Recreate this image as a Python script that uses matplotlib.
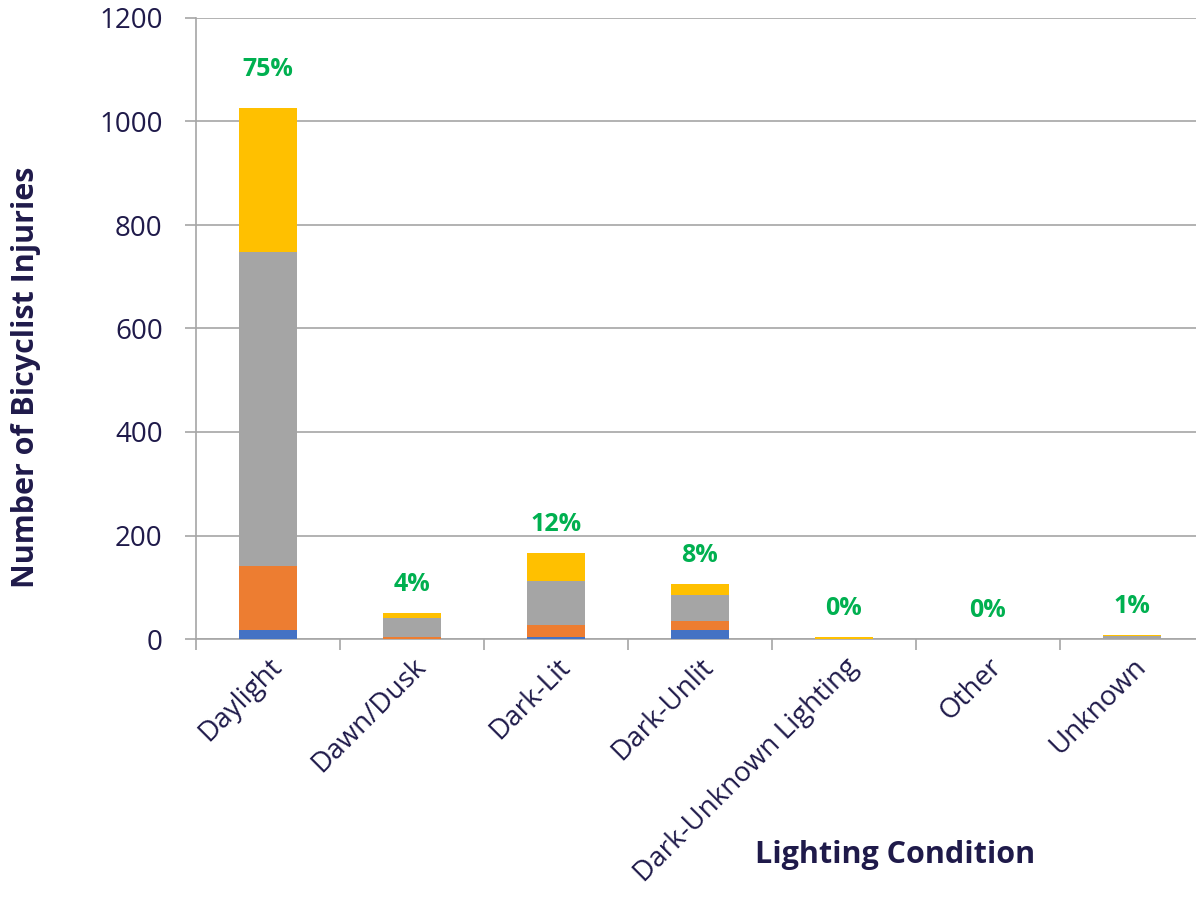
import matplotlib.pyplot as plt
import numpy as np

plt.rcParams['font.family'] = ['Open Sans', 'DejaVu Sans']

# data
conditions = ['Daylight', 'Dawn/Dusk', 'Dark-Lit', 'Dark-Unlit',
              'Dark-Unknown Lighting', 'Other', 'Unknown']
blue = [18, 0, 4, 17, 0, 0, 0]
orange = [123, 3, 23, 18, 0, 0, 0]
gray = [607, 38, 85, 50, 0, 0, 6]
yellow = [278, 9, 54, 21, 3, 0, 1]
pct_labels = ['75%', '4%', '12%', '8%', '0%', '0%', '1%']

navy = '#1f1a4a'
colors = ['#4472c4', '#ed7d31', '#a5a5a5', '#ffc000']

fig = plt.figure(figsize=(11.96, 8.98), dpi=100)
ax = fig.add_axes([196/1196, 1-639/898, 1008/1196, (639-18)/898])

x = np.arange(len(conditions))
bottom = np.zeros(len(conditions))
for vals, c in zip([blue, orange, gray, yellow], colors):
    ax.bar(x, vals, width=0.4, bottom=bottom, color=c, zorder=3)
    bottom += np.array(vals)

# percentage labels above each stack
for i, (tot, lab) in enumerate(zip(bottom, pct_labels)):
    pad = 74 if i == 0 else 55
    ax.text(x[i], tot + pad, lab, ha='center', va='center', color='#00b050',
            fontsize=18, fontweight='bold')

ax.set_xlim(-0.5, len(conditions) - 0.5)
ax.set_ylim(0, 1200)
ax.set_yticks(range(0, 1201, 200))
ax.yaxis.grid(True, color='#a6a6a6', linewidth=1.2, zorder=0)
ax.set_axisbelow(True)

for s in ['top', 'right']:
    ax.spines[s].set_visible(False)
ax.spines['left'].set_color('#a6a6a6')
ax.spines['bottom'].set_color('#a6a6a6')
ax.spines['left'].set_linewidth(1.2)
ax.spines['bottom'].set_linewidth(1.2)

# category ticks: boundaries get marks, centers get labels
ax.set_xticks(x)
ax.set_xticklabels(conditions, rotation=45, ha='right', rotation_mode='anchor',
                   fontsize=20, color=navy)
ax.tick_params(axis='x', which='major', length=0, pad=10)
ax.set_xticks(np.arange(-0.5, len(conditions), 1), minor=True)
ax.tick_params(axis='x', which='minor', length=8, color='#a6a6a6', width=1.2)
ax.tick_params(axis='y', length=8, color='#a6a6a6', width=1.2, labelsize=20,
               labelcolor=navy, pad=16)

fig.text(26/1196, 1-377/898, 'Number of Bicyclist Injuries', rotation=90,
         ha='center', va='center', fontsize=22, fontweight='bold', color=navy)
fig.text(895/1196, 1-855/898, 'Lighting Condition', ha='center', va='center',
         fontsize=22, fontweight='bold', color=navy)

fig.savefig('out.png', dpi=100)
